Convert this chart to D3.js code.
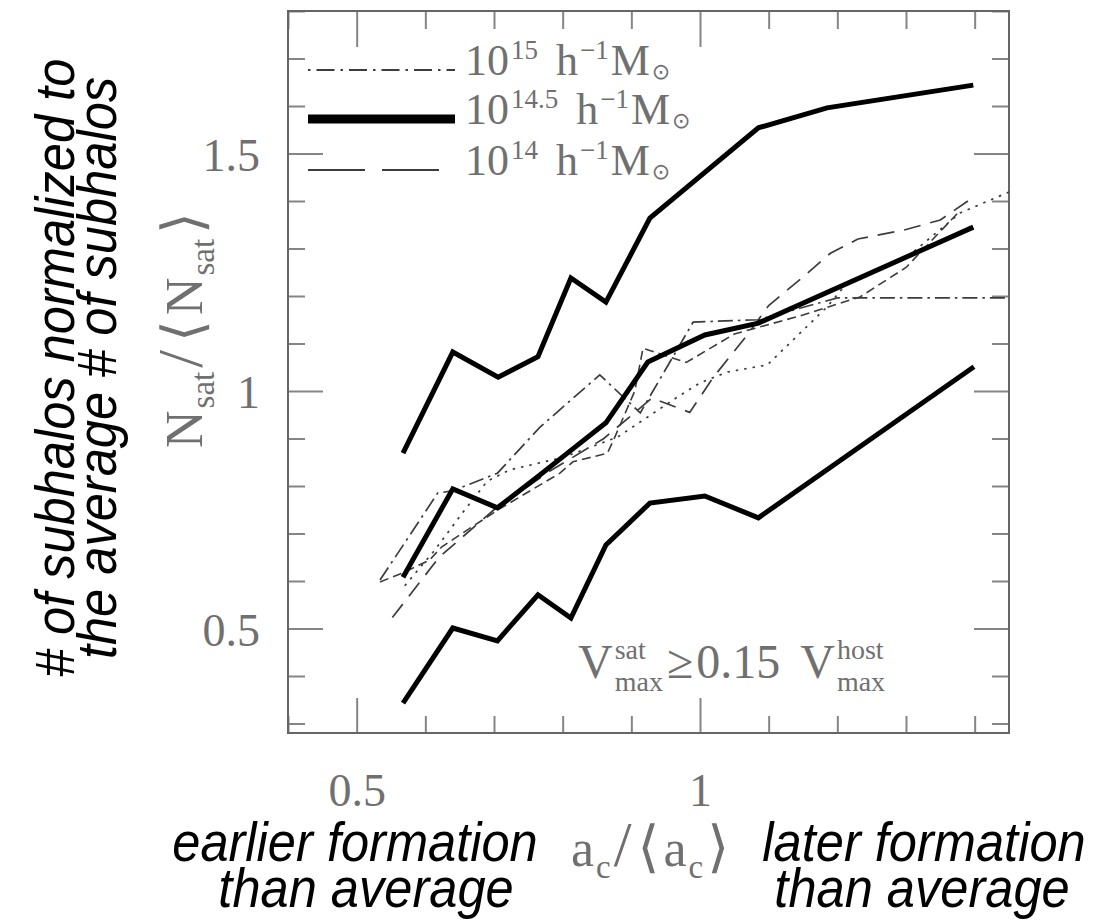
<!DOCTYPE html>
<html><head><meta charset="utf-8">
<script src="https://cdn.jsdelivr.net/npm/d3@7"></script>
<style>body{margin:0;background:#fff}</style>
</head><body>
<svg id="c" width="1095" height="922"></svg>
<script>
// ---------------- data ----------------
const X_DOMAIN = [0.4, 1.45];
const Y_DOMAIN = [0.28, 1.8];
const xMajorTicks = [0.5, 1];
const xMinorTicks = [0.4, 0.6, 0.7, 0.8, 0.9, 1.1, 1.2, 1.3, 1.4];
const yMajorTicks = [0.5, 1, 1.5];
const yMinorTicks = [0.3, 0.4, 0.6, 0.7, 0.8, 0.9, 1.1, 1.2, 1.3, 1.4, 1.6, 1.7, 1.8];
const xTickLabels = ["0.5", "1"];
const yTickLabels = ["0.5", "1", "1.5"];

// 10^14.5 (thick): upper, median, lower
const upperX  = [0.5675, 0.640, 0.706, 0.764, 0.812, 0.863, 0.927, 1.085, 1.185, 1.398];
const upperY  = [0.869, 1.082, 1.029, 1.072, 1.238, 1.187, 1.364, 1.554, 1.596, 1.644];
const medianX = [0.5675, 0.640, 0.705, 0.764, 0.812, 0.863, 0.924, 1.007, 1.085, 1.398];
const medianY = [0.608, 0.794, 0.754, 0.820, 0.875, 0.933, 1.061, 1.118, 1.143, 1.345];
const lowerX  = [0.5675, 0.640, 0.705, 0.764, 0.812, 0.863, 0.927, 1.007, 1.085, 1.399];
const lowerY  = [0.343, 0.501, 0.474, 0.571, 0.522, 0.676, 0.764, 0.779, 0.733, 1.051];

// 10^15 (dash-dot)
const m15X = [0.534, 0.618, 0.640, 0.705, 0.767, 0.854, 0.913, 0.990, 1.085, 1.200, 1.460];
const m15Y = [0.602, 0.785, 0.790, 0.827, 0.924, 1.034, 0.954, 1.145, 1.150, 1.196, 1.196];
// 10^14 (long dash)
const m14X = [0.552, 0.620, 0.700, 0.780, 0.860, 0.930, 0.985, 1.020, 1.070, 1.100, 1.150, 1.190, 1.230, 1.300, 1.350, 1.400];
const m14Y = [0.523, 0.650, 0.750, 0.830, 0.900, 0.985, 0.955, 1.030, 1.120, 1.180, 1.240, 1.290, 1.320, 1.340, 1.360, 1.410];
// extra dotted curve
const dotX = [0.570, 0.611, 0.655, 0.690, 0.723, 0.800, 0.880, 0.970, 1.000, 1.040, 1.098, 1.116, 1.185, 1.214, 1.300, 1.379, 1.460];
const dotY = [0.590, 0.660, 0.745, 0.810, 0.834, 0.860, 0.903, 0.990, 1.017, 1.040, 1.055, 1.080, 1.177, 1.227, 1.280, 1.375, 1.425];
// extra short-dash curve
const sdX = [0.534, 0.567, 0.606, 0.624, 0.706, 0.796, 0.815, 0.865, 0.873, 0.905, 0.917, 0.980, 1.050, 1.150, 1.233, 1.300, 1.379];
const sdY = [0.598, 0.617, 0.644, 0.672, 0.750, 0.827, 0.851, 0.869, 0.893, 1.000, 1.090, 1.060, 1.120, 1.160, 1.198, 1.260, 1.380];

const legendLabels = [
  {main: "10", exp: "15"},
  {main: "10", exp: "14.5"},
  {main: "10", exp: "14"}
];

// ---------------- drawing ----------------
const svg = d3.select("#c");
const serif = "'Liberation Serif','DejaVu Serif',serif";
const sans = "'Liberation Sans',Arial,sans-serif";
const textGray = "#707070";

const L = 288, R = 1009, T = 11, B = 733;
const x = d3.scaleLinear().domain(X_DOMAIN).range([L, R]);
const y = d3.scaleLinear().domain(Y_DOMAIN).range([B, T]);

svg.append("defs").append("clipPath").attr("id", "clip")
  .append("rect").attr("x", L).attr("y", T).attr("width", R - L).attr("height", B - T);

function tickGroup(axis, vals, size, tr) {
  svg.append("g").attr("transform", tr)
    .call(axis.tickValues(vals).tickSize(size).tickFormat(""))
    .call(g => { g.select(".domain").remove();
      g.selectAll("line").attr("stroke", "#858585").attr("stroke-width", 2); });
}
tickGroup(d3.axisTop(x), xMajorTicks, 35, `translate(0,${B})`);
tickGroup(d3.axisTop(x), xMinorTicks, 17, `translate(0,${B})`);
tickGroup(d3.axisBottom(x), xMajorTicks, 36, `translate(0,${T})`);
tickGroup(d3.axisBottom(x), xMinorTicks, 18, `translate(0,${T})`);
tickGroup(d3.axisRight(y), yMajorTicks, 35, `translate(${L},0)`);
tickGroup(d3.axisRight(y), yMinorTicks, 17, `translate(${L},0)`);
tickGroup(d3.axisLeft(y), yMajorTicks, 35, `translate(${R},0)`);
tickGroup(d3.axisLeft(y), yMinorTicks, 17, `translate(${R},0)`);

// frame
svg.append("rect").attr("x", L).attr("y", T).attr("width", R - L).attr("height", B - T)
  .attr("fill", "none").attr("stroke", "#666").attr("stroke-width", 2);

// tick labels
svg.append("g").attr("transform", `translate(0,${B})`)
  .call(d3.axisBottom(x).tickValues(xMajorTicks).tickSize(0).tickFormat((d, i) => xTickLabels[i]))
  .call(g => { g.select(".domain").remove();
    g.selectAll("text").attr("y", 40).attr("dy", "0.71em")
      .attr("font-family", serif).attr("font-size", 46).attr("fill", textGray); });
svg.append("g").attr("transform", `translate(${L},0)`)
  .call(d3.axisLeft(y).tickValues(yMajorTicks).tickSize(0).tickPadding(28).tickFormat((d, i) => yTickLabels[i]))
  .call(g => { g.select(".domain").remove();
    g.selectAll("text").attr("dy", "0.36em")
      .attr("font-family", serif).attr("font-size", 46).attr("fill", textGray); });

// data lines
const line = d3.line().x(d => x(d[0])).y(d => y(d[1]));
const plot = svg.append("g").attr("clip-path", "url(#clip)");
function drawSeries(xs, ys, opts) {
  plot.append("path").datum(xs.map((v, i) => [v, ys[i]]))
    .attr("d", line).attr("fill", "none")
    .attr("stroke", opts.color).attr("stroke-width", opts.width)
    .attr("stroke-dasharray", opts.dash || null)
    .attr("stroke-linejoin", "miter").attr("stroke-linecap", "butt");
}
const thin = "#3c3c3c";
drawSeries(dotX, dotY, {color: thin, width: 1.7, dash: "2.5,6"});
drawSeries(sdX, sdY, {color: thin, width: 1.6, dash: "9,5"});
drawSeries(m14X, m14Y, {color: thin, width: 1.7, dash: "17,10"});
drawSeries(m15X, m15Y, {color: thin, width: 1.7, dash: "15,5,2.5,5"});
drawSeries(upperX, upperY, {color: "#000", width: 5});
drawSeries(medianX, medianY, {color: "#000", width: 5});
drawSeries(lowerX, lowerY, {color: "#000", width: 5});

// rich text helper
function rich(parent, x0, y0, parts) {
  let cx = x0, prevStart = x0;
  parts.forEach(p => {
    const start = p.stack ? prevStart : cx + (p.gap || 0);
    const t = parent.append("text").attr("x", start).attr("y", y0 + (p.dy || 0))
      .attr("font-family", p.f || serif).attr("font-size", p.s).attr("fill", textGray).text(p.t);
    const w = t.node().getComputedTextLength();
    cx = p.stack ? Math.max(cx, start + w) : start + w;
    prevStart = start;
  });
  return cx - x0;
}

// legend
const legendStyles = [
  {dash: "2.5,6,18,6", width: 1.8, color: thin},
  {dash: null, width: 9, color: "#000"},
  {dash: "57,17", width: 1.8, color: thin}
];
const legendRows = [70, 119, 170];
const lg = svg.append("g");
legendLabels.forEach((lab, i) => {
  const st = legendStyles[i];
  lg.append("line").attr("x1", 308).attr("x2", 455).attr("y1", legendRows[i]).attr("y2", legendRows[i])
    .attr("stroke", st.color).attr("stroke-width", st.width).attr("stroke-dasharray", st.dash);
  rich(lg, 465, legendRows[i] + 5, [
    {t: lab.main, s: 44},
    {t: lab.exp, s: 27, dy: -16, gap: 2},
    {t: "h", s: 44, gap: 18},
    {t: "\u22121", s: 27, dy: -16, gap: 2},
    {t: "M", s: 44, gap: 2},
    {t: "\u2299", s: 22, dy: 4, gap: 2, f: "'DejaVu Sans',sans-serif"}
  ]);
});

// V_max annotation
rich(svg.append("g"), 578, 678, [
  {t: "V", s: 48},
  {t: "sat", s: 28, dy: -19, gap: 2},
  {t: "max", s: 28, dy: 13, stack: true},
  {t: "\u2265", s: 48, gap: 4},
  {t: "0.15", s: 48, gap: 3},
  {t: "V", s: 48, gap: 20},
  {t: "host", s: 28, dy: -19, gap: 2},
  {t: "max", s: 28, dy: 13, stack: true}
]);

// x axis label a_c/<a_c>
const xl = svg.append("g");
const wx = rich(xl, 0, 0, [
  {t: "a", s: 52},
  {t: "c", s: 33, dy: 12, gap: 2},
  {t: "/", s: 64, gap: 3},
  {t: "\u27E8", s: 56, gap: 6, f: "'DejaVu Serif',serif"},
  {t: "a", s: 52, gap: 4},
  {t: "c", s: 33, dy: 12, gap: 2},
  {t: "\u27E9", s: 56, gap: 4, f: "'DejaVu Serif',serif"}
]);
xl.attr("transform", `translate(${650 - wx / 2},866)`);

// y axis label N_sat/<N_sat>
const yl = svg.append("g");
const wy = rich(yl, 0, 0, [
  {t: "N", s: 52},
  {t: "sat", s: 33, dy: 12, gap: 2},
  {t: "/", s: 64, gap: 4},
  {t: "\u27E8", s: 56, gap: 8, f: "'DejaVu Serif',serif"},
  {t: "N", s: 52, gap: 5},
  {t: "sat", s: 33, dy: 12, gap: 2},
  {t: "\u27E9", s: 56, gap: 5, f: "'DejaVu Serif',serif"}
]);
yl.attr("transform", `translate(202,330) rotate(-90) translate(${-wy / 2},0)`);

// italic annotations
function note(txt, cx, cy, rot) {
  svg.append("text").attr("transform", `translate(${cx},${cy}) rotate(${rot || 0}) scale(0.92,1)`)
    .attr("text-anchor", "middle").attr("font-family", sans).attr("font-style", "italic")
    .attr("font-size", 55).attr("fill", "#000").text(txt);
}
note("# of subhalos normalized to", 74, 368, -90);
note("the average # of subhalos", 116, 368, -90);
note("earlier formation", 355, 861);
note("than average", 366, 907);
note("later formation", 924, 861);
note("than average", 922, 907);
</script>
</body></html>
